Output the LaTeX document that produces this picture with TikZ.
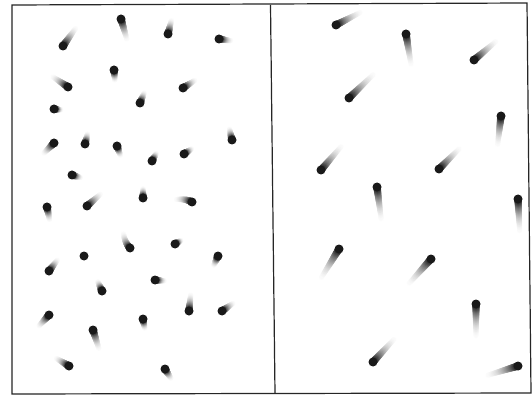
\documentclass[tikz,border=0pt]{standalone}
\begin{document}
\begin{tikzpicture}[x=1pt,y=-1pt]
\useasboundingbox (0,0) rectangle (532,395);
\fill[white] (0,0) rectangle (532,395);
\tikzset{frameline/.style={line width=1.2pt,draw=black!85}}
% comet: head (#1,#2), control (#3,#4), tail end (#5,#6)
\newcommand{\ccomet}[6]{%
  \foreach \i in {36,...,1}{%
    \pgfmathsetmacro{\tt}{\i/36}%
    \pgfmathtruncatemacro{\gg}{88*(1-\tt)^2.3}%
    \pgfmathsetmacro{\px}{(1-\tt)^2*#1+2*\tt*(1-\tt)*#3+\tt^2*#5}%
    \pgfmathsetmacro{\py}{(1-\tt)^2*#2+2*\tt*(1-\tt)*#4+\tt^2*#6}%
    \pgfmathsetmacro{\rr}{3.9*(1-0.45*\tt)}%
    \fill[black!\gg!white] (\px,\py) circle[radius=\rr];
  }%
  \fill[black!90] (#1,#2) circle[radius=4.5];
}
\newcommand{\comet}[4]{\ccomet{#1}{#2}{(#1+#3)/2}{(#2+#4)/2}{#3}{#4}}
% frame
\draw[frameline] (12,5) -- (527,3) -- (531,393) -- (12,394) -- cycle;
\draw[frameline] (270.5,5) -- (275,393.5);
% left panel
\comet{63}{46}{78}{25}
\comet{121}{19}{128}{43}
\comet{168}{34}{172}{18}
\comet{219}{39}{233}{41}
\comet{68}{87}{50}{75}
\comet{114}{70}{115}{82}
\comet{183}{88}{197}{79}
\comet{140}{103}{145}{91}
\comet{54}{109}{62}{110}
\comet{232}{140}{229}{127}
\comet{54}{143}{42}{155}
\comet{85}{144}{88}{132}
\comet{117}{146}{121}{157}
\comet{152}{161}{157}{152}
\comet{184}{154}{193}{148}
\comet{72}{175}{82}{178}
\comet{47}{207}{50}{222}
\comet{87}{206}{103}{192}
\comet{143}{198}{143}{187}
\ccomet{192}{202}{184}{198}{173}{200}
\ccomet{130}{248}{124}{242}{123}{230}
\comet{175}{244}{182}{240}
\fill[black!90] (84,256) circle[radius=4.5];
\comet{218}{256}{213}{267}
\comet{49}{271}{59}{258}
\comet{102}{291}{97}{280}
\comet{155}{280}{166}{281}
\comet{189}{311}{191}{292}
\comet{222}{311}{235}{302}
\comet{49}{315}{37}{328}
\comet{143}{319}{145}{330}
\comet{93}{330}{100}{352}
\comet{69}{366}{54}{357}
\comet{165}{369}{172}{380}
% right panel
\comet{336}{25}{365}{10}
\comet{406}{34}{412}{70}
\comet{474}{60}{500}{38}
\comet{349}{98}{378}{70}
\comet{501}{116}{497}{150}
\comet{321}{170}{345}{142}
\comet{439}{169}{463}{145}
\comet{377}{187}{382}{225}
\comet{518}{199}{520}{237}
\comet{339}{249}{318}{283}
\comet{431}{259}{405}{288}
\comet{476}{304}{476}{342}
\comet{373}{362}{398}{335}
\comet{518}{366}{482}{377}
\end{tikzpicture}
\end{document}
